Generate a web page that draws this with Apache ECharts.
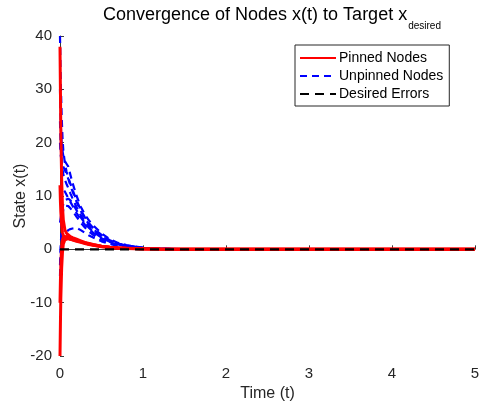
<!DOCTYPE html>
<html>
<head>
<meta charset="utf-8">
<script src="https://cdn.jsdelivr.net/npm/echarts@6/dist/echarts.min.js"></script>
<style>
  html, body { margin: 0; padding: 0; background: #fff; }
  #chart { width: 482px; height: 404px; }
</style>
</head>
<body>
<div id="chart"></div>
<script>
// Sample times (dense near t = 0 where the transients live)
const timeSteps = [0, 0.005, 0.01, 0.02, 0.03, 0.04, 0.06, 0.08, 0.1, 0.125, 0.15, 0.2, 0.25, 0.3, 0.35, 0.4, 0.5, 0.6, 0.7, 0.8, 1.0, 1.2, 1.5, 2, 3, 4, 5];

// Pinned nodes: driven directly toward the target
const pinnedA = [38, 30, 22, 13, 8, 5.5, 3.6, 3.0, 2.7, 2.4, 2.2, 1.9, 1.6, 1.3, 1.1, 0.9, 0.6, 0.4, 0.28, 0.2, 0.1, 0.05, 0.02, 0, 0, 0, 0];
const pinnedB = [-20, -14, -9, -3.5, -0.5, 1.0, 1.8, 2.0, 2.0, 1.9, 1.8, 1.5, 1.3, 1.1, 0.9, 0.75, 0.5, 0.35, 0.25, 0.17, 0.08, 0.04, 0.02, 0, 0, 0, 0];
const pinnedC = [12, 9, 7, 4.5, 3.2, 2.6, 2.2, 2.1, 2.0, 1.9, 1.8, 1.6, 1.4, 1.2, 1.0, 0.8, 0.55, 0.38, 0.26, 0.18, 0.09, 0.04, 0.02, 0, 0, 0, 0];
const pinnedD = [-10, -6, -3, 0.5, 1.8, 2.3, 2.5, 2.4, 2.3, 2.1, 2.0, 1.7, 1.45, 1.2, 1.0, 0.85, 0.58, 0.4, 0.27, 0.19, 0.09, 0.04, 0.02, 0, 0, 0, 0];

// Unpinned nodes: follow their neighbours, so they settle more slowly
const unpinnedA = [40, 35, 31, 25, 21, 18.5, 16, 14.5, 13.5, 12.3, 11.2, 9.2, 7.4, 6.0, 4.9, 4.0, 2.7, 1.7, 1.1, 0.7, 0.28, 0.11, 0.04, 0.01, 0, 0, 0];
const unpinnedB = [24, 21, 19, 16.5, 15, 14, 13, 12.2, 11.5, 10.5, 9.6, 7.9, 6.4, 5.3, 4.3, 3.6, 2.4, 1.5, 1.0, 0.65, 0.25, 0.1, 0.03, 0.01, 0, 0, 0];
const unpinnedC = [10, 10.5, 11, 11.5, 11.5, 11.2, 10.8, 10.2, 9.6, 8.9, 8.2, 6.8, 5.6, 4.6, 3.8, 3.1, 2.1, 1.35, 0.85, 0.55, 0.22, 0.09, 0.03, 0.01, 0, 0, 0];
const unpinnedD = [-5, -2, 1, 4.5, 6.5, 7.5, 8.2, 8.3, 8.1, 7.7, 7.2, 6.1, 5.0, 4.1, 3.3, 2.7, 1.8, 1.15, 0.72, 0.47, 0.19, 0.07, 0.02, 0, 0, 0, 0];
const unpinnedE = [-3, -1, 0.5, 1.8, 2.3, 2.6, 3.0, 3.3, 3.6, 3.8, 3.9, 4.0, 3.6, 3.1, 2.6, 2.2, 1.5, 1.0, 0.65, 0.43, 0.18, 0.07, 0.02, 0, 0, 0, 0];
const unpinnedF = [30, 26, 23, 20, 18.5, 17.5, 16.5, 16, 15.5, 14, 12.5, 10, 8, 6.5, 5.4, 4.5, 3.0, 1.9, 1.2, 0.8, 0.3, 0.12, 0.04, 0.01, 0, 0, 0];
const unpinnedG = [20, 18.5, 17.5, 16.5, 16, 15.5, 14.8, 14, 13.2, 12, 10.9, 8.9, 7.2, 5.8, 4.7, 3.8, 2.5, 1.6, 1.05, 0.68, 0.27, 0.1, 0.03, 0.01, 0, 0, 0];
const unpinnedH = [5, 5.5, 6, 7, 7.8, 8.5, 9.2, 9.5, 9.5, 9.2, 8.7, 7.3, 6.0, 4.9, 4.0, 3.3, 2.2, 1.4, 0.9, 0.58, 0.23, 0.09, 0.03, 0.01, 0, 0, 0];

// Target error level
const desiredTimes = [0, 5];
const desiredValues = [0, 0];

const pinnedNodes = [pinnedA, pinnedB, pinnedC, pinnedD];
const unpinnedNodes = [unpinnedA, unpinnedB, unpinnedC, unpinnedD, unpinnedE, unpinnedF, unpinnedG, unpinnedH];

const xTicks = [0, 1, 2, 3, 4, 5];
const yTicks = [-20, -10, 0, 10, 20, 30, 40];

const FONT = '"Liberation Sans", Arial, Helvetica, sans-serif';
const TEXT = '#262626';

function toPairs(times, values) {
  return times.map((t, i) => [t, values[i]]);
}

const series = [];
unpinnedNodes.forEach(v => series.push({
  name: 'Unpinned Nodes', type: 'line', showSymbol: false, symbol: 'none',
  data: toPairs(timeSteps, v),
  lineStyle: { color: '#0000ff', width: 2.2, type: [7, 5] },
  itemStyle: { color: '#0000ff' },
  silent: true, animation: false
}));
pinnedNodes.forEach(v => series.push({
  name: 'Pinned Nodes', type: 'line', showSymbol: false, symbol: 'none',
  data: toPairs(timeSteps, v),
  lineStyle: { color: '#ff0000', width: 3, type: 'solid' },
  itemStyle: { color: '#ff0000' },
  silent: true, animation: false
}));
series.push({
  name: 'Desired Errors', type: 'line', showSymbol: false, symbol: 'none',
  data: toPairs(desiredTimes, desiredValues),
  lineStyle: { color: '#000000', width: 2.2, type: [9, 6] },
  itemStyle: { color: '#000000' },
  silent: true, animation: false
});

const chart = echarts.init(document.getElementById('chart'), null, { renderer: 'canvas' });
chart.setOption({
  animation: false,
  backgroundColor: '#ffffff',
  title: {
    text: '{m|Convergence of Nodes x(t) to Target x}{s|desired}',
    left: 98, top: 1,
    textStyle: {
      fontWeight: 'normal',
      rich: {
        m: { fontFamily: FONT, fontSize: 18, fontWeight: 'normal', color: '#000', lineHeight: 22, verticalAlign: 'top' },
        s: { fontFamily: FONT, fontSize: 10, fontWeight: 'normal', color: '#000', lineHeight: 12, padding: [15, 0, 0, 1], verticalAlign: 'top' }
      }
    }
  },
  legend: {
    orient: 'vertical',
    left: 295, top: 45,
    padding: [6, 6, 5, 4],
    itemGap: 4,
    itemWidth: 36, itemHeight: 14,
    backgroundColor: '#ffffff',
    borderColor: '#262626', borderWidth: 1,
    itemStyle: { opacity: 0 },
    textStyle: { fontFamily: FONT, fontSize: 14, color: '#000', padding: [0, 0, 0, -2] },
    data: ['Pinned Nodes', 'Unpinned Nodes', 'Desired Errors'],
    selectedMode: false
  },
  grid: { left: 60, right: 7, top: 36, bottom: 48, containLabel: false, outerBoundsMode: 'none' },
  xAxis: {
    type: 'value', min: xTicks[0], max: xTicks[xTicks.length - 1], interval: 1,
    name: 'Time (t)', nameLocation: 'middle', nameGap: 30, nameMoveOverlap: false,
    nameTextStyle: { fontFamily: FONT, fontSize: 16, color: TEXT },
    axisLine: { lineStyle: { color: '#3a3a3a', width: 1 } },
    axisTick: { inside: true, length: 4, lineStyle: { color: '#3a3a3a' } },
    axisLabel: { fontFamily: FONT, fontSize: 15, color: TEXT, margin: 10 },
    splitLine: { show: false }
  },
  yAxis: {
    type: 'value', min: yTicks[0], max: yTicks[yTicks.length - 1], interval: 10,
    name: 'State x(t)', nameLocation: 'middle', nameGap: 31, nameMoveOverlap: false,
    nameTextStyle: { fontFamily: FONT, fontSize: 16, color: TEXT },
    axisLine: { lineStyle: { color: '#3a3a3a', width: 1 } },
    axisTick: { inside: true, length: 4, lineStyle: { color: '#3a3a3a' } },
    axisLabel: { fontFamily: FONT, fontSize: 15, color: TEXT, margin: 8 },
    splitLine: { show: false }
  },
  series: series
});
</script>
</body>
</html>
